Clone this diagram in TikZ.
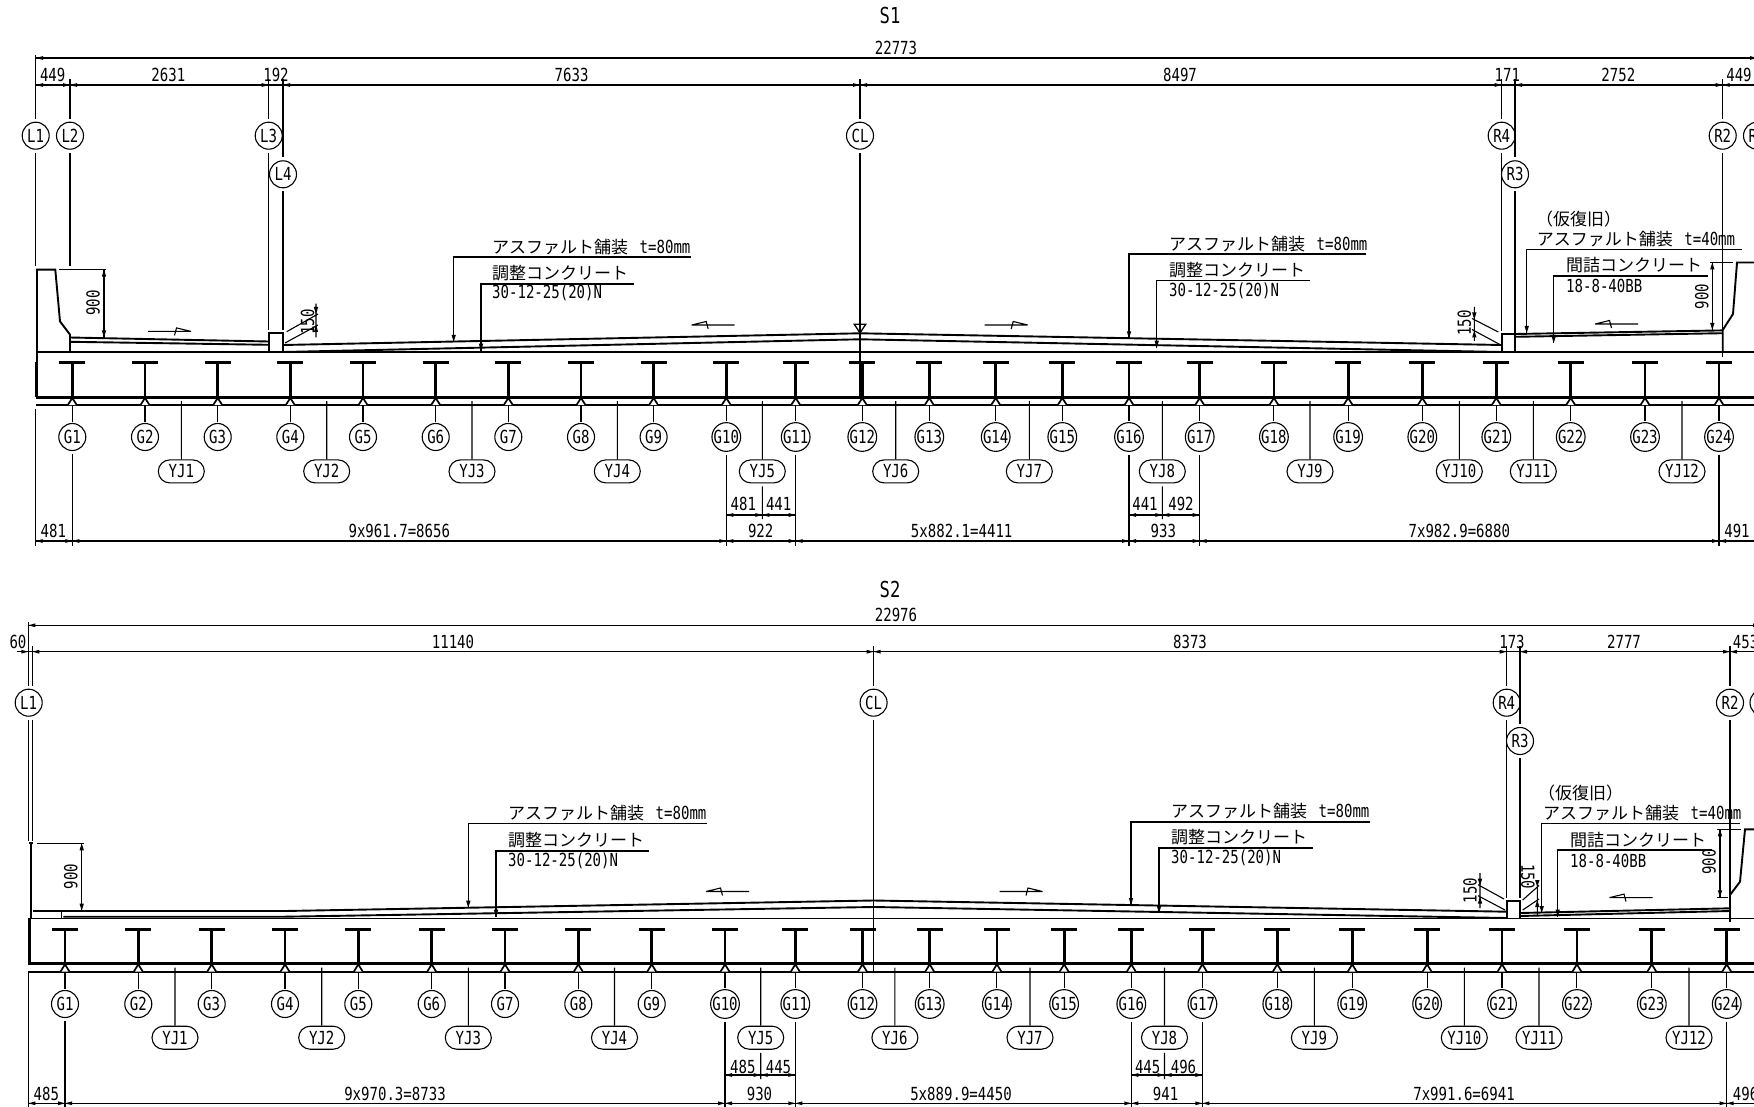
\documentclass[tikz,border=0pt]{standalone}
\usepackage{fontspec}
\setmainfont[FakeStretch=0.78]{DejaVu Sans Mono}
\newfontfamily\jpf{Noto Sans CJK JP}
\usetikzlibrary{shapes.misc}
\newcommand\jp[1]{{\jpf\fontsize{17}{17}\selectfont #1}}
\newcommand\gp{\hspace{11.5pt}}
\newcommand\tipL[2]{\fill (#1,#2) -- ++(7,-1.9) -- ++(0,3.8) -- cycle;}
\newcommand\tipR[2]{\fill (#1,#2) -- ++(-7,-1.9) -- ++(0,3.8) -- cycle;}
\newcommand\tipD[2]{\fill (#1,#2) -- ++(-2.2,-7) -- ++(4.4,0) -- cycle;}
\newcommand\tipU[2]{\fill (#1,#2) -- ++(-2.2,7) -- ++(4.4,0) -- cycle;}
\newcommand\bothtips[2]{\foreach \tx in {#2} {\tipL{\tx}{#1}\tipR{\tx}{#1}}}
% name, far end x, shelf y, leader x, tip y
\newcommand\callout[5]{%
  \coordinate (#1a) at (#2,#3);\coordinate (#1b) at (#4,#3);\coordinate (#1c) at (#4,#5);
  \draw[thinl] (#1a) -- (#1b) -- (#1c);\tipD{#4}{#5}}
\newcommand\slopeL[2]{\draw[thinl] (#1,#2) -- ++(43,0) (#1,#2) -- ++(14.5,-3.5) -- ++(2,7.5);}
\newcommand\slopeR[2]{\draw[thinl] (#1,#2) -- ++(-43,0) (#1,#2) -- ++(-14.5,-3.5) -- ++(-2,7.5);}
% prefix, list, flange y, slab y, lower y, circle y
\newcommand\girderrow[6]{\foreach \n/\x in {#2} {
  \draw[flange] (\x-13,#3) -- (\x+13,#3);
  \draw[web] (\x,#3) -- (\x,#4);
  \draw[seat] (\x-4.5,#5) -- (\x,#4+1) -- (\x+4.5,#5);
  \node[circ] (#1g\n) at (\x,#6) {G\n};
  \coordinate (#1gs\n) at (\x,#5);
  \draw[thinl,shorten <=1pt] (#1g\n) -- (#1gs\n);
}}
% prefix, list, pill y, leader top y
\newcommand\yjrow[4]{\foreach \n/\x in {#2} {
  \node[pill] (#1y\n) at (\x,#3) {YJ\n};
  \coordinate (#1ys\n) at (\x,#4);
  \draw[thinl] (#1y\n) -- (#1ys\n);
}}
\begin{document}
\begin{tikzpicture}[x=1pt,y=-1pt,
  every node/.style={inner sep=0pt,font=\fontsize{18}{18}\selectfont},
  thinl/.style={line width=1.1pt,black},
  medl/.style={line width=1.3pt,black},
  dimline/.style={line width=1.2pt,black},
  deck/.style={line width=1.9pt,black},
  pave/.style={line width=1.9pt,black},
  flange/.style={line width=3.2pt,black},
  web/.style={line width=2.8pt,black},
  slab/.style={line width=3pt,black},
  seat/.style={line width=1.7pt,black,fill=white},
  circ/.style={circle,draw,line width=1.1pt,minimum size=27pt},
  pill/.style={rounded rectangle,draw,line width=1.1pt,minimum width=46pt,minimum height=23pt},
  txt/.style={anchor=west},
  gapped/.style={shorten <=3pt}]
\useasboundingbox (0,0) rectangle (1754,1107);
\clip (0,0) rectangle (1754,1107);

%% ================= S1 =================
\node (t1) at (890,15) {\fontsize{22}{22}\selectfont S1};
\node (d1) at (896,48) {22773};
\draw[dimline] (36,58) -- (1754,58);
\tipL{36}{58}\tipR{1757}{58}
\draw[dimline] (36,85) -- (1754,85);
\tipL{36}{85}\tipR{268.7}{85}\tipL{283}{85}\tipR{1501.7}{85}\tipL{1515}{85}
\bothtips{85}{70,860,1722.7}
\foreach \x/\s in {52.7/449,168.3/2631,276/192,571.6/7633,1180/8497,1507.3/171,1618.3/2752,1739/449}
  \node at (\x,75) {\s};

% grid bubbles
\foreach \n/\t/\x/\y in {l1/L1/35.7/135.7,l2/L2/70/135.7,l3/L3/268.7/135.7,l4/L4/283/174.3,cl/CL/860/135.7,r4/R4/1501.7/135.7,r3/R3/1515/174.3,r2/R2/1722.7/135.7,r1/R1/1757/135.7}
  \node[circ] (a\n) at (\x,\y) {\t};
\coordinate (al1t) at (35.7,55);\coordinate (al1b) at (35.7,266);
\coordinate (al2t) at (70,79);\coordinate (al2b) at (70,266);
\coordinate (al3t) at (268.7,79);\coordinate (al3b) at (268.7,330);
\coordinate (al4t) at (283,79);\coordinate (al4b) at (283,330);
\coordinate (aclt) at (860,79);\coordinate (aclb) at (860,397);
\coordinate (ar4t) at (1501.7,79);\coordinate (ar4b) at (1501.7,331);
\coordinate (ar3t) at (1515,79);\coordinate (ar3b) at (1515,333);
\coordinate (ar2t) at (1722.7,79);\coordinate (ar2b) at (1722.7,357);
\foreach \n in {l1,l2,l3,l4,cl,r4,r3,r2} {
  \draw[medl,gapped] (a\n) -- (a\n t);
  \draw[thinl,gapped] (a\n) -- (a\n b);
}

% deck and slab
\draw[deck] (36,352) -- (1754,352);
\draw[slab] (36,397) -- (1754,397);
\draw[deck] (36,405) -- (1754,405);
\draw[slab] (36.8,362) -- (36.8,397);
% left barrier
\draw[pave] (37,362) -- (37,269.6) -- (55.3,269.6) -- (60,321.4) -- (70,334.6) -- (70,352);
% left pavement
\draw[pave] (70,337.5) -- (268.7,341.5);
\draw[pave] (70,341.8) -- (268.7,344.8);
\draw[pave] (268.7,352) rectangle (283,333.2);
% crown pavement
\draw[pave] (283,345) -- (860,333.3) -- (1501.7,345);
\draw[pave] (283,352) -- (860,339.3) -- (1501.7,352);
\draw[medl] (860,324.3) ++(-5.7,0) -- ++(11.4,0) -- (860,333) -- cycle;
% right curb, pavement, barrier
\draw[pave] (1501.7,352) rectangle (1515,334);
\draw[pave] (1515,334) -- (1722.7,330.4);
\draw[pave] (1515,336.8) -- (1722.7,333.2);
\draw[pave] (1722.7,352) -- (1722.7,330) -- (1733,314) -- (1737,262.5) -- (1754,262.5);
% slope marks
\slopeR{191}{331.4}\slopeL{691.7}{325}\slopeR{1027.7}{325}\slopeL{1595}{324}

% girders
\girderrow{a}{1/72.3,2/145,3/217.7,4/290.3,5/363,6/435.7,7/508.3,8/581,9/653.6,10/726.3,11/795.7,12/862.3,13/929.3,14/995.7,15/1062.3,16/1129,17/1199.7,18/1273.9,19/1348.1,20/1422.3,21/1496.3,22/1570.7,23/1645,24/1719}{362.7}{397}{405}{437}
\yjrow{a}{1/181.3,2/326.7,3/472,4/617.3,5/762.3,6/895.7,7/1029.3,8/1162.3,9/1310,10/1459.3,11/1533.3,12/1682}{471.4}{401}

% dimensions below
\draw[dimline] (36,541) -- (1754,541);
\draw[thinl] (35.7,409) -- (35.7,546);
\tipL{35.7}{541}
\bothtips{541}{72.3,726.3,795.7,1129,1199.7,1719}
\draw[dimline] (726.3,515) -- (795.7,515) (1129,515) -- (1199.7,515);
\tipL{726.3}{515}\tipR{795.7}{515}\tipL{1129}{515}\tipR{1199.7}{515}
\bothtips{515}{762.3,1162.3}
\foreach \n/\x in {1/72.3,10/726.3,11/795.7,16/1129,17/1199.7,24/1719} {
  \coordinate (agd\n) at (\x,546);
  \draw[medl,gapped] (ag\n) -- (agd\n);
}
\foreach \n/\x in {5/762.3,8/1162.3} {
  \coordinate (ayd\n) at (\x,519);
  \draw[thinl,gapped] (ay\n) -- (ayd\n);
}
\foreach \x/\s in {53.3/481,399.3/9x961.7=8656,760.7/922,961.7/5x882.1=4411,1163.3/933,1459.3/7x982.9=6880,1737/491}
  \node at (\x,531) {\s};
\foreach \x/\s in {743.3/481,778.7/441,1145/441,1181/492}
  \node at (\x,504) {\s};

% level dimensions
\draw[thinl] (59,269.6) -- (106,269.6);
\draw[thinl] (104,269.6) -- (104,337.5);
\tipU{104}{269.6}\tipD{104}{337.5}
\node[rotate=90] at (93,303) {900};
\draw[thinl] (316,303.6) -- (316,337.5) (286.7,331.7) -- (318,314) (285,343) -- (318,325);
\tipD{316}{314}\tipU{316}{325}
\node[rotate=90] at (307.5,322) {150};
\draw[thinl] (1474.3,307) -- (1474.3,341) (1472,318.5) -- (1498.3,332) (1472,329.5) -- (1500,344.6);
\tipD{1474.3}{319.5}\tipU{1474.3}{330.5}
\node[rotate=90] at (1464.3,323) {150};
\draw[thinl] (1710,262.5) -- (1733,262.5);
\draw[thinl] (1712.3,262.5) -- (1712.3,330);
\tipU{1712.3}{262.5}\tipD{1712.3}{330}
\node[rotate=90] at (1701.7,296.4) {900};

% annotations
\node[txt] (a1) at (492,247) {\jp{アスファルト舗装}\gp t=80mm};
\callout{ca1}{691}{257}{453.7}{341.8}
\node[txt] (a2) at (492,273) {\jp{調整コンクリート}};
\callout{ca2}{634}{284}{481}{350.7}
\node[txt] (a3) at (492,293) {30-12-25(20)N};
\node[txt] (a4) at (1169,244) {\jp{アスファルト舗装}\gp t=80mm};
\callout{ca4}{1366}{254}{1129}{338.3}
\node[txt] (a5) at (1169,270) {\jp{調整コンクリート}};
\callout{ca5}{1310}{280.8}{1156.7}{347.7}
\node[txt] (a6) at (1169,291) {30-12-25(20)N};
\node[txt] (a7) at (1536,219) {\jp{（仮復旧）}};
\node[txt] (a8) at (1536.7,239.3) {\jp{アスファルト舗装}\gp t=40mm};
\callout{ca8}{1741.7}{249.3}{1526.7}{333}
\node[txt] (a9) at (1566,265) {\jp{間詰コンクリート}};
\callout{ca9}{1707.7}{276}{1553.7}{343}
\node[txt] (a10) at (1566,285.7) {18-8-40BB};

%% ================= S2 =================
\node (t2) at (890,589.5) {\fontsize{22}{22}\selectfont S2};
\node (d2) at (896,615) {22976};
\draw[dimline] (28.3,625.3) -- (1754,625.3);
\tipL{28.3}{625.3}\tipR{1760}{625.3}
\draw[dimline] (16.7,651.7) -- (1754,651.7);
\tipR{28.3}{651.7}\tipL{32.3}{651.7}\tipR{1506.7}{651.7}\tipL{1520}{651.7}
\bothtips{651.7}{873.6,1730}
\foreach \x/\s in {18/60,453/11140,1190/8373,1512/173,1624/2777,1745.6/453}
  \node at (\x,642) {\s};

\foreach \n/\t/\x/\y in {l1/L1/28.7/702.7,cl/CL/873.6/702.7,r4/R4/1506.7/702.7,r3/R3/1520/741,r2/R2/1730/702.7,r1/R1/1763.5/702.7}
  \node[circ] (b\n) at (\x,\y) {\t};
\coordinate (bclt) at (873.6,646);\coordinate (bclb) at (873.6,971);
\coordinate (br4t) at (1506.7,646);\coordinate (br4b) at (1506.7,898);
\coordinate (br3t) at (1520,646);\coordinate (br3b) at (1520,898);
\coordinate (br2t) at (1730,646);\coordinate (br2b) at (1730,922);
\foreach \n in {cl,r4,r3,r2} {
  \draw[medl,gapped] (b\n) -- (b\n t);
  \draw[thinl,gapped] (b\n) -- (b\n b);
}
\draw[medl] (28.3,622) -- (28.3,686) (32.3,646) -- (32.3,686);
\draw[medl] (28.3,720) -- (28.3,841) (32.3,720) -- (32.3,841);

\draw[deck] (28.3,918.5) -- (1754,918.5);
\draw[slab] (28.3,963.3) -- (1754,963.3);
\draw[deck] (28.3,971.7) -- (1754,971.7);
\draw[slab] (29,918) -- (29,963.3);
\draw[line width=2.4pt] (31,842.7) -- (31,918);
\draw[deck] (33,842.7) -- (29,842.7);
% pavement
\draw[pave] (33,911) -- (285,911) -- (873.6,900.5) -- (1506.7,911.7);
\draw[pave] (63.3,916.7) -- (285,916.7) -- (873.6,907) -- (1506.7,918);
\draw[thinl] (61.7,911) -- (61.7,918);
\draw[pave] (1506.7,918.5) rectangle (1520,901);
\draw[pave] (1520,913) -- (1730,908.3);
\draw[pave] (1520,916) -- (1730,911);
\draw[pave] (1730,918.5) -- (1730,895) -- (1740,881.7) -- (1745,829.3) -- (1754,829.3);
\slopeL{706}{891.5}\slopeR{1042.5}{891.5}\slopeL{1609.5}{897.6}

\girderrow{b}{1/65,2/138.3,3/211.7,4/285,5/358.3,6/431.7,7/505,8/578.3,9/651.7,10/725,11/795.3,12/862.5,13/929.7,14/996.9,15/1064.1,16/1131.3,17/1202.4,18/1277.3,19/1352.2,20/1427.1,21/1502,22/1576.9,23/1651.8,24/1726.7}{929.3}{963.3}{971.7}{1004}
\yjrow{b}{1/175,2/321.7,3/468.3,4/614.5,5/760.7,6/894.9,7/1030,8/1164.5,9/1314.4,10/1464.3,11/1539,12/1689}{1037.7}{967.5}

\draw[dimline] (28.3,1103.3) -- (1754,1103.3);
\draw[thinl] (28.3,972) -- (28.3,1107);
\tipL{28.3}{1103.3}
\bothtips{1103.3}{65,725,795.3,1131.3,1202.4,1726.7}
\draw[dimline] (725,1075) -- (795.3,1075) (1131.3,1075) -- (1202.4,1075);
\tipL{725}{1075}\tipR{795.3}{1075}\tipL{1131.3}{1075}\tipR{1202.4}{1075}
\bothtips{1075}{760.7,1164.5}
\foreach \n/\x in {1/65,10/725,11/795.3,16/1131.3,17/1202.4,24/1726.7} {
  \coordinate (bgd\n) at (\x,1108);
  \draw[medl,gapped] (bg\n) -- (bgd\n);
}
\foreach \n/\x in {5/760.7,8/1164.5} {
  \coordinate (byd\n) at (\x,1079);
  \draw[thinl,gapped] (by\n) -- (byd\n);
}
\foreach \x/\s in {46.3/485,395/9x970.3=8733,759.5/930,961/5x889.9=4450,1165.6/941,1464/7x991.6=6941,1745.6/496}
  \node at (\x,1094) {\s};
\foreach \x/\s in {742.8/485,778.5/445,1147.7/445,1183.5/496}
  \node at (\x,1067) {\s};

% level dimensions
\draw[thinl] (36.7,843.3) -- (83.5,843.3);
\draw[thinl] (81.7,843.3) -- (81.7,910.7);
\tipU{81.7}{843.3}\tipD{81.7}{910.7}
\node[rotate=90] at (70.7,876.7) {900};
\draw[thinl] (1480,873) -- (1480,908) (1478,884.7) -- (1504,899) (1478,895.7) -- (1505,910);
\tipD{1480}{885.7}\tipU{1480}{896.7}
\node[rotate=90] at (1470,890.7) {150};
\draw[thinl] (1537.3,881) -- (1537.3,915) (1522.7,900) -- (1539,885.5) (1522.7,910) -- (1539,899);
\tipD{1537.3}{887}\tipU{1537.3}{900}
\node[rotate=-90] at (1528,876.7) {150};
\draw[thinl] (1717,829.3) -- (1740.7,829.3) (1717,897.3) -- (1728,897.3);
\draw[thinl] (1720,829.3) -- (1720,897.3);
\tipU{1720}{829.3}\tipD{1720}{897.3}
\node[rotate=90] at (1709,862) {900};

% annotations
\node[txt] (b1) at (508,813) {\jp{アスファルト舗装}\gp t=80mm};
\callout{cb1}{707}{823.3}{468.3}{907.7}
\node[txt] (b2) at (508,840) {\jp{調整コンクリート}};
\callout{cb2}{648.8}{851}{496}{916.7}
\node[txt] (b3) at (508,861) {30-12-25(20)N};
\node[txt] (b4) at (1171,811) {\jp{アスファルト舗装}\gp t=80mm};
\callout{cb4}{1370}{822}{1131}{905}
\node[txt] (b5) at (1171,837) {\jp{調整コンクリート}};
\callout{cb5}{1313}{848}{1159}{913}
\node[txt] (b6) at (1171,858) {30-12-25(20)N};
\node[txt] (b7) at (1538,792.7) {\jp{（仮復旧）}};
\node[txt] (b8) at (1543,813.3) {\jp{アスファルト舗装}\gp t=40mm};
\callout{cb8}{1740}{823.7}{1541.7}{913}
\node[txt] (b9) at (1570,840) {\jp{間詰コンクリート}};
\callout{cb9}{1712}{850}{1557.7}{916.7}
\node[txt] (b10) at (1570,860.7) {18-8-40BB};
\end{tikzpicture}
\end{document}
